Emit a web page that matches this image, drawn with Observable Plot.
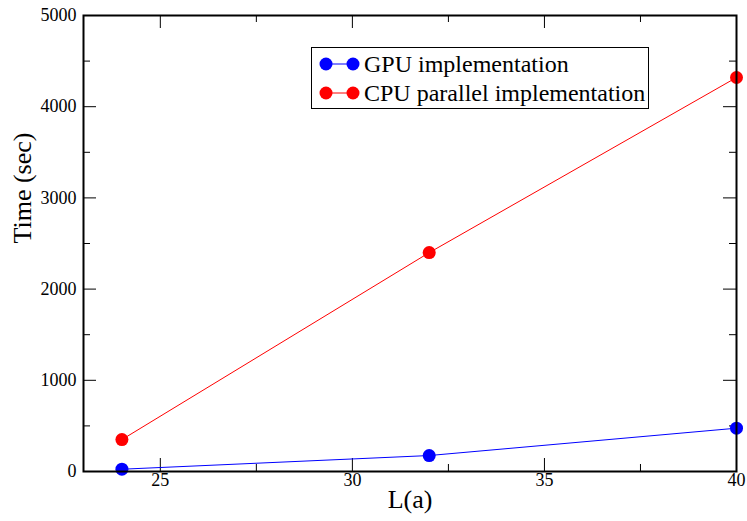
<!DOCTYPE html>
<html>
<head>
<meta charset="utf-8">
<script src="https://cdn.jsdelivr.net/npm/d3@7"></script>
<script src="https://cdn.jsdelivr.net/npm/@observablehq/plot@0.6"></script>
<style>
  body { margin: 0; background: #fff; }
  #wrap { position: relative; width: 747px; height: 521px; }
  #legend { position: absolute; left: 311px; top: 47px; width: 338px; height: 62px;
            border: 1.5px solid #000; box-sizing: border-box; background: #fff; }
</style>
</head>
<body>
<div id="wrap"><div id="legend"></div></div>
<script>
// ---- data ----
const L = [24, 32, 40];
const gpuTime = [25, 175, 475];
const cpuTime = [350, 2400, 4320];
const seriesNames = ["GPU implementation", "CPU parallel implementation"];
const seriesColors = ["#0000ff", "#ff0000"];
const xMajorTicks = [25, 30, 35, 40];
const xMinorTicks = [27.5, 32.5, 37.5];
const yMajorTicks = [0, 1000, 2000, 3000, 4000, 5000];
const yMinorTicks = [500, 1500, 2500, 3500, 4500];
const xLabel = "L(a)";
const yLabel = "Time (sec)";

const seriesValues = [gpuTime, cpuTime];
const rows = [];
seriesNames.forEach((name, i) => {
  L.forEach((x, j) => rows.push({series: name, x, y: seriesValues[i][j], color: seriesColors[i]}));
});

const W = 747, H = 521, mL = 83, mR = 11, mT = 15, mB = 50;
const iw = W - mL - mR, ih = H - mT - mB;
const major = 13, minor = 7;
const font = "Liberation Serif, Times New Roman, serif";

const chart = Plot.plot({
  width: W, height: H,
  marginLeft: mL, marginRight: mR, marginTop: mT, marginBottom: mB,
  style: {fontFamily: font, background: "#fff", color: "#000"},
  x: {domain: [23, 40], axis: null},
  y: {domain: [0, 5000], axis: null},
  marks: [
    // ticks (inward, on all four sides)
    Plot.tickX(xMajorTicks, {x: d => d, insetTop: ih - major, stroke: "#000"}),
    Plot.tickX(xMinorTicks, {x: d => d, insetTop: ih - minor, stroke: "#000"}),
    Plot.tickX(xMajorTicks, {x: d => d, insetBottom: ih - major, stroke: "#000"}),
    Plot.tickX(xMinorTicks, {x: d => d, insetBottom: ih - minor, stroke: "#000"}),
    Plot.tickY(yMajorTicks, {y: d => d, insetRight: iw - major, stroke: "#000"}),
    Plot.tickY(yMinorTicks, {y: d => d, insetRight: iw - minor, stroke: "#000"}),
    Plot.tickY(yMajorTicks, {y: d => d, insetLeft: iw - major, stroke: "#000"}),
    Plot.tickY(yMinorTicks, {y: d => d, insetLeft: iw - minor, stroke: "#000"}),
    // tick labels
    Plot.text(xMajorTicks, {x: d => d, text: d => String(d), frameAnchor: "bottom", dy: 14, fontSize: 18, fontFamily: font, fill: "#000"}),
    Plot.text(yMajorTicks, {y: d => d, text: d => String(d), frameAnchor: "left", textAnchor: "end", dx: -7, fontSize: 18, fontFamily: font, fill: "#000"}),
    // axis titles
    Plot.text([xLabel], {text: d => d, frameAnchor: "bottom", dy: 36, fontSize: 26, fontFamily: font, fill: "#000"}),
    Plot.text([yLabel], {text: d => d, frameAnchor: "left", rotate: -90, dx: -61, fontSize: 26, fontFamily: font, fill: "#000"}),
    // series
    Plot.line(rows, {x: "x", y: "y", z: "series", stroke: "color", strokeWidth: 1}),
    Plot.dot(rows, {x: "x", y: "y", fill: "color", r: 6.5}),
    Plot.frame({stroke: "#000", strokeWidth: 2})
  ]
});
chart.style.display = "block";
const wrap = document.getElementById("wrap");
wrap.insertBefore(chart, wrap.firstChild);

// legend
const lg = d3.select("#legend").append("svg").attr("width", 335).attr("height", 59)
  .style("position", "absolute").style("left", "-0.5px").style("top", "-0.5px");
seriesNames.forEach((name, i) => {
  const cy = 16 + i * 29;
  const g = lg.append("g");
  g.append("line").attr("x1", 14).attr("x2", 41).attr("y1", cy).attr("y2", cy)
    .attr("stroke", seriesColors[i]).attr("stroke-width", 1);
  g.append("circle").attr("cx", 14).attr("cy", cy).attr("r", 6.5).attr("fill", seriesColors[i]);
  g.append("circle").attr("cx", 41).attr("cy", cy).attr("r", 6.5).attr("fill", seriesColors[i]);
  g.append("text").attr("x", 52).attr("y", cy + 8).attr("font-family", font)
    .attr("font-size", 24).attr("fill", "#000").text(name);
});
</script>
</body>
</html>
